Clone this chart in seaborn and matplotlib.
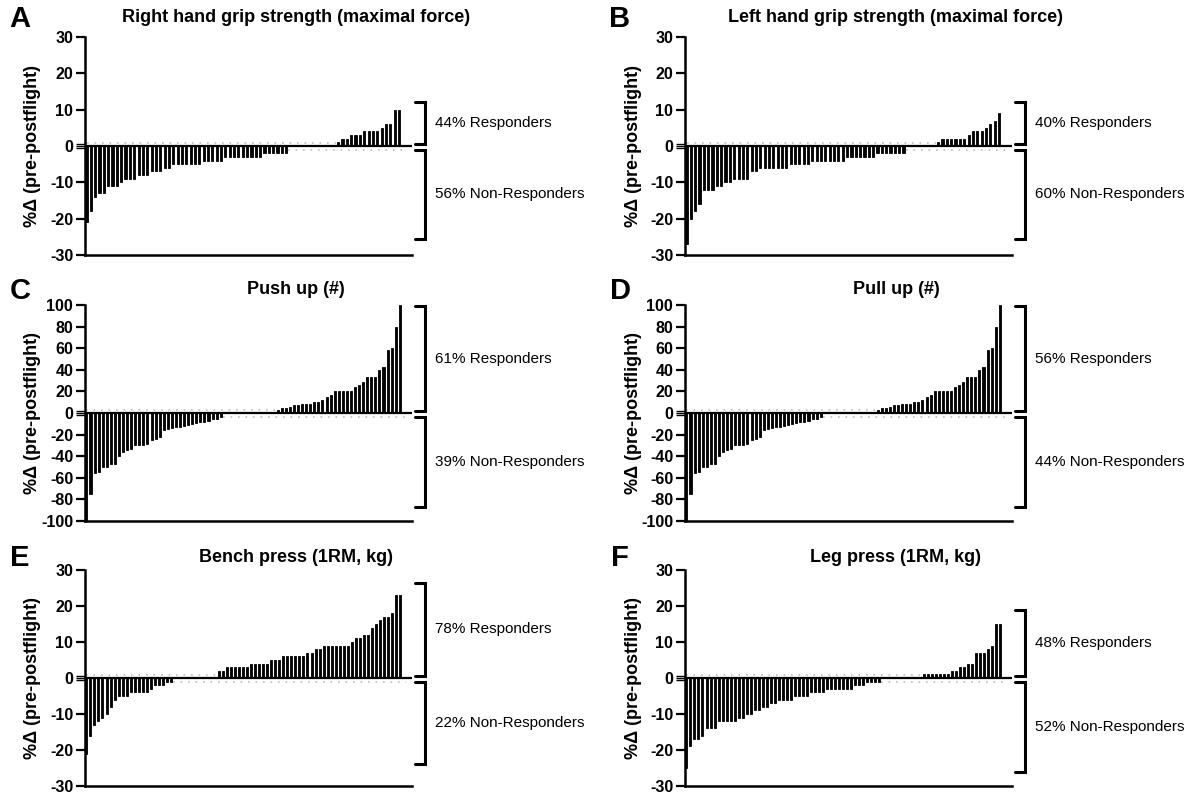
import numpy as np
import matplotlib
matplotlib.use("Agg")
import matplotlib.pyplot as plt
from matplotlib.transforms import ScaledTranslation
import seaborn as sns

# % change pre- to postflight, one bar per crew measurement, sorted low -> high
right_grip = [
    -21, -18, -14, -13, -13, -11, -11, -11, -10, -9, -9, -9, -8, -8, -8, -7, -7, -7, -6, -6,
    -5, -5, -5, -5, -5, -5, -5, -4, -4, -4, -4, -4, -3, -3, -3, -3, -3, -3, -3, -3,
    -3, -2, -2, -2, -2, -2, -2, 0, 0, 0, 0, 0, 0, 0, 0, 0, 0, 0,
    1, 2, 2, 3, 3, 3, 4, 4, 4, 4, 5, 6, 6, 10, 10,
]
left_grip = [
    -27, -20, -18, -16, -12, -12, -12, -11, -11, -10, -10, -9, -9, -9, -9, -7, -7, -6, -6, -6,
    -6, -6, -6, -6, -5, -5, -5, -5, -5, -4, -4, -4, -4, -4, -4, -4, -4, -3, -3, -3,
    -3, -3, -3, -3, -2, -2, -2, -2, -2, -2, -2, 0, 0, 0, 0, 0, 0, 0,
    1, 2, 2, 2, 2, 2, 2, 3, 4, 4, 4, 5, 6, 7, 9,
]
push_up = [
    -100, -75, -56, -55, -50, -50, -47, -47, -40, -36, -34, -33, -30, -30, -30, -29, -25, -24, -22, -16,
    -15, -14, -13, -13, -12, -11, -10, -9, -8, -8, -7, -6, -6, -4,
    0, 0, 0, 0, 0, 0, 0, 0, 0, 0, 0, 0, 0,
    3, 5, 5, 6, 7, 7, 8, 8, 8, 10, 10, 12, 15, 17, 20, 20, 20, 20, 20, 24,
    26, 29, 33, 33, 33, 40, 43, 58, 60, 80, 100,
]
pull_up = [
    -100, -75, -56, -55, -50, -50, -47, -47, -40, -36, -34, -33, -30, -30, -30, -29, -25, -24, -22, -16,
    -15, -14, -13, -13, -12, -11, -10, -9, -8, -8, -7, -6, -6, -4,
    0, 0, 0, 0, 0, 0, 0, 0, 0, 0, 0, 0, 0,
    3, 5, 5, 6, 7, 7, 8, 8, 8, 10, 10, 12, 15, 17, 20, 20, 20, 20, 20, 24,
    26, 29, 33, 33, 33, 40, 43, 58, 60, 80, 100,
]
bench_press = [
    -21, -16, -13, -12, -11, -10, -8, -6, -5, -5, -5, -4, -4, -4, -4, -4, -3, -2, -2, -2,
    -1, -1, 0, 0, 0, 0, 0, 0, 0, 0, 0, 0, 0,
    2, 2, 3, 3, 3, 3, 3, 3, 4, 4, 4, 4, 4, 5, 5, 5, 6, 6, 6, 6,
    6, 6, 7, 7, 8, 8, 9, 9, 9, 9, 9, 9, 9, 10, 11, 11, 12, 12, 14, 15,
    16, 17, 17, 18, 23, 23,
]
leg_press = [
    -25, -19, -17, -17, -16, -14, -14, -14, -12, -12, -12, -12, -12, -11, -11, -10, -10, -9, -9, -8,
    -8, -7, -7, -6, -6, -6, -6, -5, -5, -5, -5, -4, -4, -4, -4, -3, -3, -3, -3, -3,
    -3, -3, -2, -2, -2, -1, -1, -1, -1, 0, 0, 0, 0, 0, 0, 0, 0, 0, 0,
    1, 1, 1, 1, 1, 1, 1, 2, 2, 3, 3, 4, 4, 7, 7, 7, 8, 9, 15, 15,
]

titles = [
    "Right hand grip strength (maximal force)",
    "Left hand grip strength (maximal force)",
    "Push up (#)",
    "Pull up (#)",
    "Bench press (1RM, kg)",
    "Leg press (1RM, kg)",
]
letters = ["A", "B", "C", "D", "E", "F"]
responders = ["44% Responders", "40% Responders", "61% Responders",
              "56% Responders", "78% Responders", "48% Responders"]
non_responders = ["56% Non-Responders", "60% Non-Responders", "39% Non-Responders",
                  "44% Non-Responders", "22% Non-Responders", "52% Non-Responders"]
bracket_top = [12, 12, 99, 99, 26.5, 19]
bracket_bottom = [-25.5, -25.5, -87, -87, -24, -26]
y_limit = [30, 30, 100, 100, 30, 30]
y_step = [10, 10, 20, 20, 10, 10]
series = [right_grip, left_grip, push_up, pull_up, bench_press, leg_press]

sns.set_style("ticks")
plt.rcParams["font.family"] = ["Liberation Sans", "DejaVu Sans"]
plt.rcParams["font.weight"] = "bold"
plt.rcParams["text.color"] = "black"

W, H = 1193, 795
fig = plt.figure(figsize=(W / 100, H / 100), dpi=100)

# layout in pixels
col_left = [85, 685]
row_top = [37, 305, 570]
row_bottom = [255, 521, 786]
ax_w = 327
title_y = [18, 290, 557]


def px(dy):
    return ScaledTranslation(0, dy / 100, fig.dpi_scale_trans)


for i, vals in enumerate(series):
    r, c = divmod(i, 2)
    x0 = col_left[c]
    ax = fig.add_axes([x0 / W, 1 - row_bottom[r] / H, ax_w / W,
                       (row_bottom[r] - row_top[r]) / H])
    n = len(vals)
    lim, step = y_limit[i], y_step[i]

    sns.barplot(x=list(range(n)), y=vals, color="black", saturation=1,
                width=0.5, errorbar=None, ax=ax, zorder=2,
                edgecolor="black", linewidth=0.6)

    # zero line and faint dotted baselines of the broken axis
    ax.axhline(0, color="black", lw=1.6, zorder=3)
    first_pos = next(k for k, v in enumerate(vals) if v > 0)
    last_neg = max(k for k, v in enumerate(vals) if v < 0)
    ax.plot([0, first_pos - 0.5], [0, 0], transform=ax.transData + px(3),
            ls=(0, (1, 3.5)), color="#bdbdbd", lw=1.2, zorder=1)
    ax.plot([last_neg + 0.5, n + 0.5], [0, 0], transform=ax.transData + px(-4),
            ls=(0, (1, 3.5)), color="#bdbdbd", lw=1.2, zorder=1)

    ax.set_xlim(-0.35, n + 2)
    ax.set_ylim(-lim, lim)
    ticks = list(range(-lim, lim + 1, step))
    ax.set_yticks(ticks)
    ax.set_yticklabels([str(t) for t in ticks])
    ax.tick_params(axis="y", length=6.5, width=1.6, labelsize=11.5, pad=2,
                   color="black", labelcolor="black")
    ax.tick_params(axis="x", bottom=False, labelbottom=False)
    ax.set_xlabel("")
    ax.set_ylabel("")
    ax.yaxis.get_major_ticks()[ticks.index(0)].tick1line.set_visible(False)
    sns.despine(ax=ax)
    for s in ("left", "bottom"):
        ax.spines[s].set_linewidth(1.8)
        ax.spines[s].set_color("black")

    # axis break marks at zero
    yax = ax.get_yaxis_transform()
    for dy in (-2, 0, 2):
        ax.plot([-0.028, 0], [0, 0], transform=yax + px(dy), color="black",
                lw=1.0, clip_on=False, solid_capstyle="butt")

    # responder brackets
    lo_gap, hi_gap = 0.018 * lim, -0.037 * lim
    for y_a, y_b, label in ((bracket_top[i], lo_gap, responders[i]),
                            (hi_gap, bracket_bottom[i], non_responders[i])):
        ax.plot([1.009, 1.04, 1.04, 1.009], [y_a, y_a, y_b, y_b], transform=yax,
                color="black", lw=2.2, clip_on=False, solid_joinstyle="miter")
        ax.text(1.07, (y_a + y_b) / 2, label, transform=yax, ha="left", va="center",
                fontsize=11, fontweight="normal", color="black")

    yc = 1 - (row_top[r] + row_bottom[r]) / 2 / H
    fig.text((x0 - 52) / W, yc, "%Δ (pre-postflight)", rotation=90, ha="center",
             va="center", fontsize=13, fontweight="bold")
    fig.text((x0 + 0.645 * ax_w) / W, 1 - title_y[r] / H, titles[i], ha="center",
             va="center", fontsize=13, fontweight="bold")
    fig.text((x0 - 65) / W, 1 - (title_y[r] + 1) / H, letters[i], ha="center",
             va="center", fontsize=21, fontweight="bold")

fig.savefig("out.png", dpi=100)
